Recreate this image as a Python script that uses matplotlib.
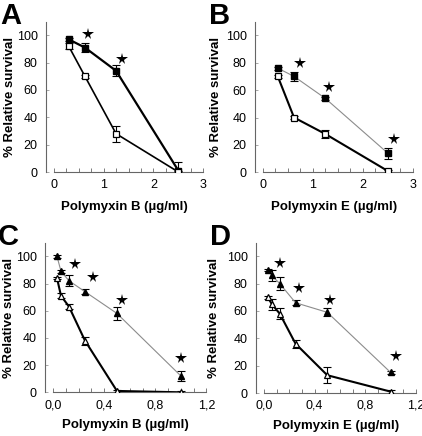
import numpy as np
import matplotlib.pyplot as plt

plt.rcParams['font.family'] = ['Liberation Sans', 'DejaVu Sans']

# Panel A - Polymyxin B, squares
conc_a = [0.3, 0.625, 1.25, 2.5]
filled_a = [97, 91, 74, 1]
filled_a_err = [1, 3, 4, 6]
open_a = [92, 70, 28, 0]
open_a_err = [2, 1, 6, 1]
star_a_x = [0.68, 1.37]
star_a_y = [101, 83]

# Panel B - Polymyxin E, squares
conc_b = [0.3, 0.625, 1.25, 2.5]
filled_b = [76, 70, 54, 14]
filled_b_err = [1, 3, 1, 4]
open_b = [70, 40, 28, 1]
open_b_err = [1, 1, 3, 1]
star_b_x = [0.74, 1.32, 2.63]
star_b_y = [80, 62, 24]

# Panel C - Polymyxin B, triangles
conc_c = [0.03125, 0.0625, 0.125, 0.25, 0.5, 1.0]
filled_c = [100, 89, 82, 74, 58, 12]
filled_c_err = [1, 1, 4, 2, 5, 4]
open_c = [84, 71, 63, 38, 1, 0]
open_c_err = [1, 2, 2, 3, 1, 1]
star_c_x = [0.17, 0.31, 0.54, 1.0]
star_c_y = [94, 85, 68, 25]

# Panel D - Polymyxin E, triangles
conc_d = [0.03125, 0.0625, 0.125, 0.25, 0.5, 1.0]
filled_d = [90, 86, 80, 66, 59, 15]
filled_d_err = [1, 4, 5, 2, 3, 1]
open_d = [70, 65, 58, 36, 13, 1]
open_d_err = [1, 4, 4, 3, 6, 1]
star_d_x = [0.13, 0.28, 0.52, 1.04]
star_d_y = [95, 77, 68, 27]

W, H = 422, 436
fig = plt.figure(figsize=(W / 100, H / 100), dpi=100)


def make_axes(left, right, top, bottom):
    return fig.add_axes([left / W, 1 - bottom / H, (right - left) / W, (bottom - top) / H])


def panel(ax, x, yf, ef, yo, eo, sx, sy, marker, filled_style, open_style,
          xmax, xmajor, xminor, xlabels, xlabel, letter, ylab_x, xlab_y):
    ax.errorbar(x, yf, yerr=ef, fmt='none', ecolor='black', elinewidth=0.8,
                capsize=2.8, capthick=0.8, zorder=2)
    ax.errorbar(x, yo, yerr=eo, fmt='none', ecolor='black', elinewidth=0.8,
                capsize=2.8, capthick=0.8, zorder=2)
    ax.plot(x, yf, color=filled_style[0], lw=filled_style[1], zorder=3)
    ax.plot(x, yo, color=open_style[0], lw=open_style[1], zorder=3)
    ax.plot(x, yf, ls='none', marker=marker, ms=5, mfc='black', mec='black', zorder=4)
    ax.plot(x, yo, ls='none', marker=marker, ms=5, mfc='white', mec='black',
            mew=0.9, zorder=4)
    ax.plot(sx, sy, ls='none', marker='*', ms=8.5, color='black', mew=0, zorder=5)

    ax.set_xlim(-xmax * 0.052, xmax)
    ax.set_ylim(0, 110)
    for s in ['top', 'right']:
        ax.spines[s].set_visible(False)
    ax.spines['bottom'].set_bounds(0, xmax)
    ax.spines['left'].set_bounds(0, 110)
    for s in ['left', 'bottom']:
        ax.spines[s].set_color('#666666')
        ax.spines[s].set_linewidth(0.8)

    ax.set_xticks(xmajor)
    ax.set_xticklabels(xlabels)
    ax.set_xticks(np.arange(0, xmax + 1e-9, xminor), minor=True)
    ax.set_yticks([0, 20, 40, 60, 80, 100])
    ax.tick_params(axis='x', which='both', direction='in', length=3, width=0.6,
                   color='#666666', labelsize=9, pad=5)
    ax.tick_params(axis='y', which='both', direction='in', length=2, width=0.6,
                   color='#999999', labelsize=9, pad=6)
    ax.set_xlabel(xlabel, fontsize=9.5, fontweight='bold', va='center')
    ax.set_ylabel('% Relative survival', fontsize=9.5, fontweight='bold', va='center')
    ax.xaxis.set_label_coords(0.5, xlab_y)
    ax.yaxis.set_label_coords(ylab_x, 0.5)
    ax.text(-0.29, 1.13, letter, transform=ax.transAxes, fontsize=21,
            fontweight='bold', va='top', ha='left')


ax_a = make_axes(46, 203.3, 21.6, 172)
panel(ax_a, conc_a, filled_a, filled_a_err, open_a, open_a_err, star_a_x, star_a_y,
      's', ('black', 1.6), ('black', 1.2), 3, [0, 1, 2, 3], 0.25,
      ['0', '1', '2', '3'], 'Polymyxin B (µg/ml)', 'A', -0.228, -0.233)

ax_b = make_axes(255, 412.7, 21.6, 172.3)
panel(ax_b, conc_b, filled_b, filled_b_err, open_b, open_b_err, star_b_x, star_b_y,
      's', ('#8c8c8c', 0.8), ('black', 1.5), 3, [0, 1, 2, 3], 0.25,
      ['0', '1', '2', '3'], 'Polymyxin E (µg/ml)', 'B', -0.25, -0.233)

ax_c = make_axes(45, 206.5, 242.7, 392.3)
panel(ax_c, conc_c, filled_c, filled_c_err, open_c, open_c_err, star_c_x, star_c_y,
      '^', ('#8c8c8c', 0.8), ('black', 1.5), 1.2, [0, 0.4, 0.8, 1.2], 0.1,
      ['0,0', '0,4', '0,8', '1,2'], 'Polymyxin B (µg/ml)', 'C', -0.225, -0.22)

ax_d = make_axes(256, 416, 242.6, 393)
panel(ax_d, conc_d, filled_d, filled_d_err, open_d, open_d_err, star_d_x, star_d_y,
      '^', ('#8c8c8c', 0.8), ('black', 1.5), 1.2, [0, 0.4, 0.8, 1.2], 0.1,
      ['0,0', '0,4', '0,8', '1,2'], 'Polymyxin E (µg/ml)', 'D', -0.265, -0.22)

fig.savefig('out.png', dpi=100)
